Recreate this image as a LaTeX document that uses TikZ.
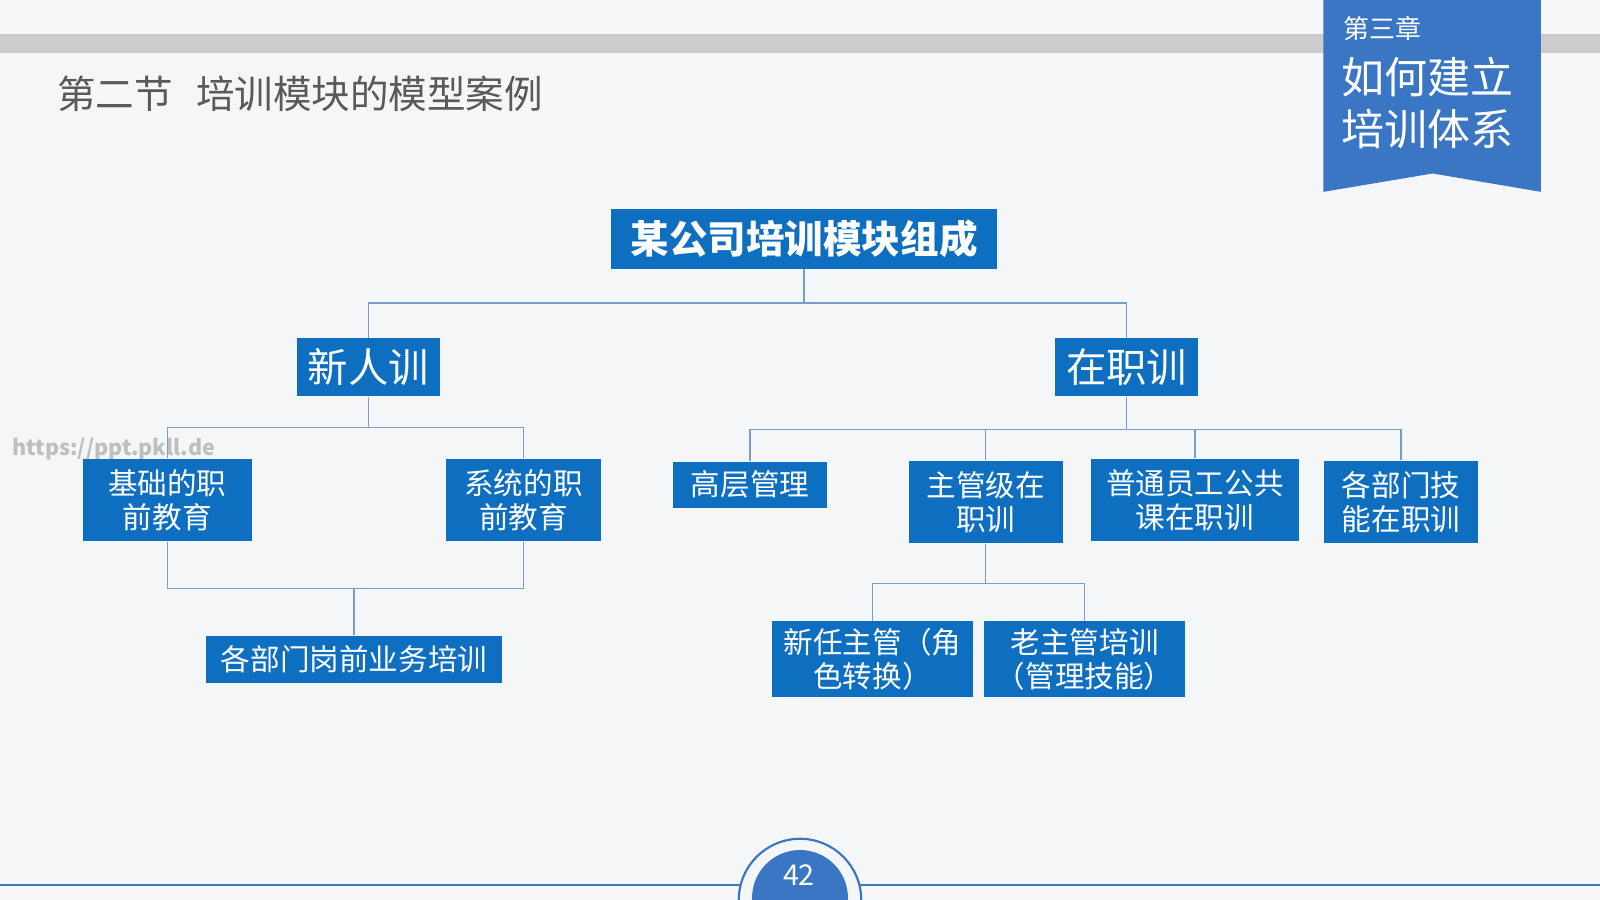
\documentclass[tikz,border=0pt]{standalone}
\usepackage{fontspec}
\setmainfont{Noto Sans CJK SC}
\usepackage{tikz}
\usetikzlibrary{calc}

\definecolor{bgc}{HTML}{F5F6F7}
\definecolor{boxc}{HTML}{0E6EC0}
\definecolor{linec}{HTML}{7A9CC8}
\definecolor{ribc}{HTML}{3A76C4}
\definecolor{titc}{HTML}{595959}

\tikzset{
  mod/.style={fill=boxc, text=white, inner sep=0pt, align=center, font=\fontsize{16.5}{19}\selectfont},
  link/.style={draw=linec, line width=0.8pt}
}

\begin{document}
\begin{tikzpicture}[x=0.02cm, y=-0.02cm]

% background and frame
\useasboundingbox (0,0) rectangle (1568,882);
\fill[bgc] (0,0) rectangle (1568,882);
\fill[black!20] (0,33) rectangle (1568,52);
\node[anchor=west, text=titc, font=\fontsize{21.5}{25}\selectfont] (title) at (50,92) {第二节\hspace{0.6em}培训模块的模型案例};
\node[anchor=west, text=black!25, font=\fontsize{12}{14}\selectfont\bfseries] (mark) at (6,440) {https://ppt.pkll.de};

% ribbon
\fill[ribc] (1297,0) -- (1510,0) -- (1510,188) -- (1404,170) -- (1297,188) -- cycle;
\node[anchor=west, text=white, font=\fontsize{14.5}{17}\selectfont] (chap) at (1310,28) {第三章};
\node[anchor=north west, text=white, align=left, font=\fontsize{24}{29}\selectfont] (chname) at (1308,50) {如何建立\\培训体系};

% First, the boxes
\node[mod, minimum width=379*0.02cm, minimum height=59*0.02cm, font=\fontsize{21.5}{25}\selectfont\bfseries] (root) at (788,234) {某公司培训模块组成};
\node[mod, minimum width=140*0.02cm, minimum height=57*0.02cm, font=\fontsize{22.5}{26}\selectfont] (new) at (361,360) {新人训};
\node[mod, minimum width=141*0.02cm, minimum height=57*0.02cm, font=\fontsize{22.5}{26}\selectfont] (job) at (1104,360) {在职训};
\node[mod, minimum width=165*0.02cm, minimum height=81*0.02cm] (basic) at (164,490) {基础的职\\前教育};
\node[mod, minimum width=151*0.02cm, minimum height=81*0.02cm] (sys) at (513,490) {系统的职\\前教育};
\node[mod, minimum width=290*0.02cm, minimum height=46*0.02cm] (dept) at (347,646) {各部门岗前业务培训};
\node[mod, minimum width=151*0.02cm, minimum height=45*0.02cm] (top) at (735,475) {高层管理};
\node[mod, minimum width=151*0.02cm, minimum height=81*0.02cm] (mgr) at (966,492) {主管级在\\职训};
\node[mod, minimum width=204*0.02cm, minimum height=81*0.02cm] (staff) at (1171,490) {普通员工公共\\课在职训};
\node[mod, minimum width=151*0.02cm, minimum height=81*0.02cm] (skill) at (1373,492) {各部门技\\能在职训};
\node[mod, minimum width=197*0.02cm, minimum height=74*0.02cm] (nmgr) at (855,646) {新任主管（角\\色转换）};
\node[mod, minimum width=197*0.02cm, minimum height=74*0.02cm] (omgr) at (1063,646) {老主管培训\\（管理技能）};

% Then the connectors
\draw[link] (root.south) |- (new.north |- 0,297) -- (new.north);
\draw[link] (root.south |- 0,297) -| (job.north);
\draw[link] (new.south) |- (basic.north |- 0,419) -- (basic.north);
\draw[link] (new.south |- 0,419) -| (sys.north);
\draw[link] (basic.south) |- (sys.south |- 0,577) -- (sys.south);
\draw[link] (dept.north) -- (dept.north |- 0,577);
\draw[link] (job.south) |- (top.north |- 0,421) -- (top.north);
\draw[link] (top.north |- 0,421) -| (skill.north);
\draw[link] (mgr.north) -- (mgr.north |- 0,421);
\draw[link] (staff.north) -- (staff.north |- 0,421);
\draw[link] (mgr.south) |- (nmgr.north |- 0,572) -- (nmgr.north);
\draw[link] (mgr.south |- 0,572) -| (omgr.north);

% page number
\draw[ribc, line width=1.2pt] (0,867) -- (1568,867);
\fill[bgc] (724,882) arc (180:360:60) -- cycle;
\draw[ribc, line width=1.2pt] (724,882) arc (180:360:60);
\fill[ribc] (784,880) circle (47*0.02cm);
\node[text=white, font=\fontsize{16}{19}\selectfont] (page) at (783,858) {42};
\end{tikzpicture}
\end{document}
